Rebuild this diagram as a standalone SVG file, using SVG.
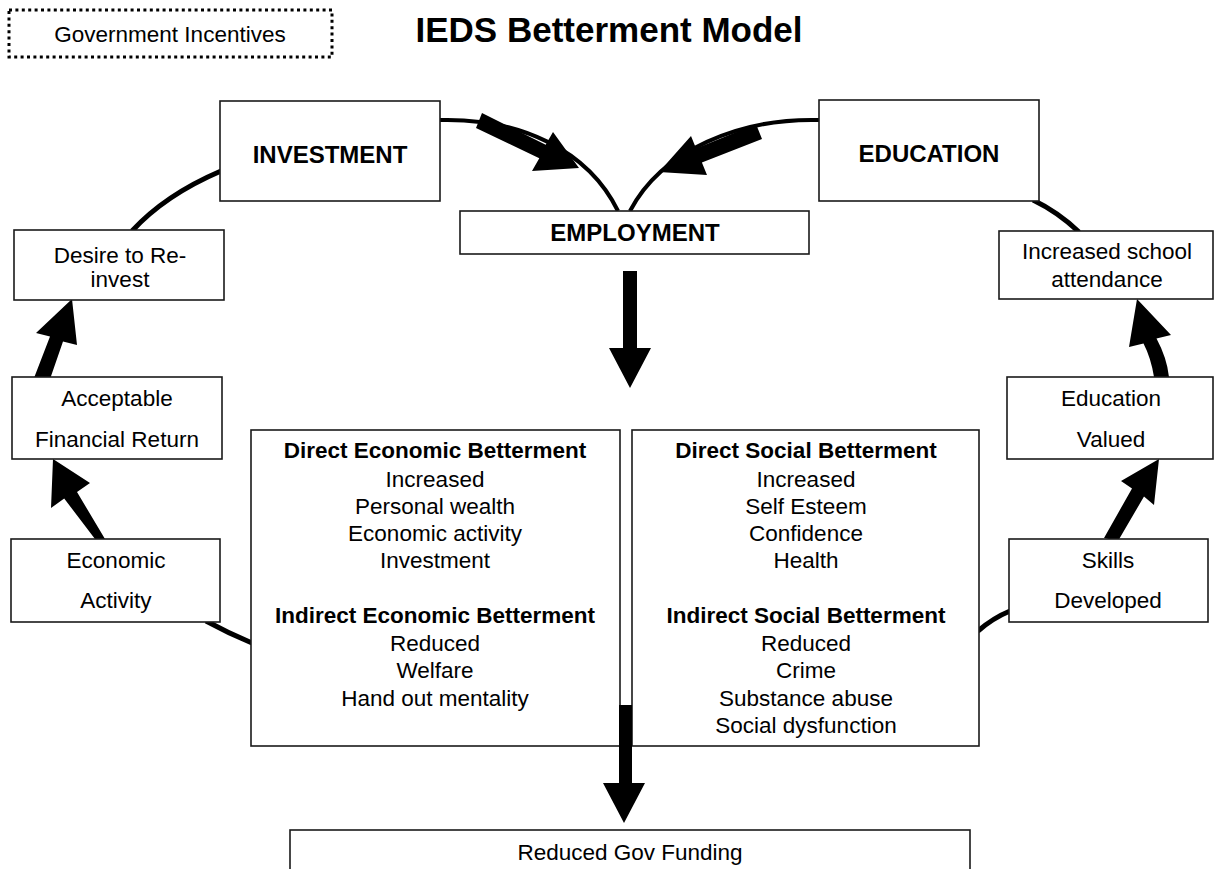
<svg xmlns="http://www.w3.org/2000/svg" width="1215" height="869" viewBox="0 0 1215 869">
  <style>
    .box { fill: #fff; stroke: #1a1a1a; stroke-width: 1.6; }
    .txt { font-family: "Liberation Sans", Arial, sans-serif; font-size: 22.5px; fill: #000; text-anchor: middle; }
    .b { font-weight: bold; }
    .lbl { font-family: "Liberation Sans", Arial, sans-serif; font-size: 24px; font-weight: bold; fill: #000; text-anchor: middle; }
    .arc { fill: none; stroke: #000; stroke-width: 5; stroke-linecap: butt; }
    .thin { fill: none; stroke: #000; stroke-width: 4; }
    .blk { fill: #000; stroke: none; }
  </style>

  <!-- title -->
  <text x="609" y="42" font-family="Liberation Sans, Arial, sans-serif" font-size="35" font-weight="bold" text-anchor="middle">IEDS Betterment Model</text>

  <!-- connectors -->
  <g id="connectors">
    <!-- outer loop segments -->
    <path class="arc" d="M132,231 Q165,195 221,171"/>
    <path class="arc" d="M1033,200 Q1058,212 1079,232"/>
    <path class="arc" d="M206,621 Q228,633 252,643"/>
    <path class="arc" d="M1010,611 Q993,618 978,631"/>

    <!-- curves into EMPLOYMENT -->
    <path class="thin" d="M440,120 C520,118 588,150 618,211"/>
    <path class="thin" d="M819,120 C740,118 662,150 630,211"/>

    <!-- block arrows -->
    <polygon class="blk" points="482,113 545.7,144.7 553,132 579,168 532,171 539.3,158.3 476,128"/>
    <polygon class="blk" points="756,124 762,139 701.9,162.4 707,175 659,172 691,136 696.1,148.6"/>
    <polygon class="blk" points="623,271 637,271 637,348 651,348 630,388 609,348 623,348"/>
    <polygon class="blk" points="95,539 64.2,498.5 51,508 53,459 90,483 77,492 105,539"/>
    <polygon class="blk" points="34,378 50,336.5 36,333 72,299 77,345 63,341.5 49,382"/>
    <polygon class="blk" points="1104,538 1132,488.5 1121,481 1159,459 1154,505 1144,496.5 1118,541"/>
    <path class="blk" d="M1154,377 Q1151,358 1143.5,343.5 L1129,347 L1137,299 L1171,335 L1156.5,338.5 Q1167,358 1169,377 Z"/>
  </g>

  <!-- nodes -->
  <g id="gov-incentives">
    <rect x="9" y="10" width="323" height="47" fill="#fff" stroke="#000" stroke-width="3" stroke-dasharray="3 3.4"/>
    <text class="txt" x="170" y="42">Government Incentives</text>
  </g>

  <g id="investment">
    <rect class="box" x="220" y="101" width="220" height="100"/>
    <text class="lbl" x="330" y="163">INVESTMENT</text>
  </g>

  <g id="education">
    <rect class="box" x="819" y="100" width="220" height="101"/>
    <text class="lbl" x="929" y="162">EDUCATION</text>
  </g>

  <g id="employment">
    <rect class="box" x="460" y="211" width="349" height="43"/>
    <text class="lbl" x="635" y="241">EMPLOYMENT</text>
  </g>

  <g id="desire-reinvest">
    <rect class="box" x="14" y="230" width="210" height="70"/>
    <text class="txt" x="120" y="263">Desire to Re-</text>
    <text class="txt" x="120" y="287">invest</text>
  </g>

  <g id="financial-return">
    <rect class="box" x="12" y="377" width="210" height="82"/>
    <text class="txt" x="117" y="406">Acceptable</text>
    <text class="txt" x="117" y="447">Financial Return</text>
  </g>

  <g id="economic-activity">
    <rect class="box" x="11" y="539" width="209" height="83"/>
    <text class="txt" x="116" y="568">Economic</text>
    <text class="txt" x="116" y="608">Activity</text>
  </g>

  <g id="school-attendance">
    <rect class="box" x="999" y="231" width="214" height="68"/>
    <text class="txt" x="1107" y="259">Increased school</text>
    <text class="txt" x="1107" y="287">attendance</text>
  </g>

  <g id="education-valued">
    <rect class="box" x="1007" y="377" width="206" height="82"/>
    <text class="txt" x="1111" y="406">Education</text>
    <text class="txt" x="1111" y="447">Valued</text>
  </g>

  <g id="skills-developed">
    <rect class="box" x="1009" y="539" width="199" height="83"/>
    <text class="txt" x="1108" y="568">Skills</text>
    <text class="txt" x="1108" y="608">Developed</text>
  </g>

  <g id="economic-betterment">
    <rect class="box" x="251" y="430" width="369" height="316"/>
    <text class="txt b" x="435" y="458">Direct Economic Betterment</text>
    <text class="txt" x="435" y="487">Increased</text>
    <text class="txt" x="435" y="514">Personal wealth</text>
    <text class="txt" x="435" y="541">Economic activity</text>
    <text class="txt" x="435" y="568">Investment</text>
    <text class="txt b" x="435" y="623">Indirect Economic Betterment</text>
    <text class="txt" x="435" y="651">Reduced</text>
    <text class="txt" x="435" y="678">Welfare</text>
    <text class="txt" x="435" y="706">Hand out mentality</text>
  </g>

  <g id="social-betterment">
    <rect class="box" x="632" y="430" width="347" height="316"/>
    <text class="txt b" x="806" y="458">Direct Social Betterment</text>
    <text class="txt" x="806" y="487">Increased</text>
    <text class="txt" x="806" y="514">Self Esteem</text>
    <text class="txt" x="806" y="541">Confidence</text>
    <text class="txt" x="806" y="568">Health</text>
    <text class="txt b" x="806" y="623">Indirect Social Betterment</text>
    <text class="txt" x="806" y="651">Reduced</text>
    <text class="txt" x="806" y="678">Crime</text>
    <text class="txt" x="806" y="706">Substance abuse</text>
    <text class="txt" x="806" y="733">Social dysfunction</text>
  </g>

  <!-- arrow from the betterment boxes down to funding -->
  <polygon class="blk" points="619,705 632,705 632,783 645,783 624,823 603,783 619,783"/>

  <g id="reduced-funding">
    <rect class="box" x="290" y="830" width="680" height="60"/>
    <text class="txt" x="630" y="860">Reduced Gov Funding</text>
  </g>
</svg>
